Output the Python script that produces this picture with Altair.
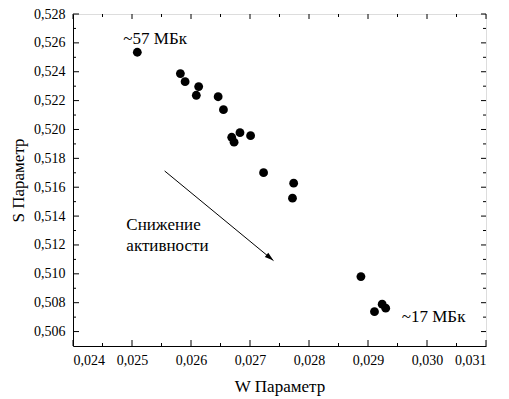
import altair as alt
import pandas as pd

# ---- data ----
w_param = [0.02509, 0.02582, 0.02590, 0.02613, 0.02609, 0.02646, 0.02655,
           0.02669, 0.02673, 0.02683, 0.02701, 0.02723, 0.02774, 0.02772,
           0.02888, 0.02911, 0.02924, 0.02930]
s_param = [0.52535, 0.52387, 0.52331, 0.52297, 0.52237, 0.52227, 0.52137,
           0.51946, 0.51912, 0.51978, 0.51957, 0.51701, 0.51628, 0.51524,
           0.50981, 0.50738, 0.50790, 0.50762]

x_major = [0.024, 0.025, 0.026, 0.027, 0.028, 0.029, 0.030, 0.031]
x_minor = [0.0245, 0.0255, 0.0265, 0.0275, 0.0285, 0.0295, 0.0305]
y_major = [0.506, 0.508, 0.510, 0.512, 0.514, 0.516, 0.518, 0.520,
           0.522, 0.524, 0.526, 0.528]
y_minor = [0.507, 0.509, 0.511, 0.513, 0.515, 0.517, 0.519, 0.521,
           0.523, 0.525, 0.527]

label_text = ["~57 МБк", "~17 МБк"]
label_x = [0.025392, 0.030112]
label_y = [0.526269, 0.507017]

note_text = ["Снижение", "активности"]
note_x = [0.024904, 0.024904]
note_y = [0.513388, 0.511934]

arrow_x = [0.025553, 0.027398]
arrow_y = [0.517127, 0.510915]

X_DOMAIN = [0.024, 0.031]
Y_DOMAIN = [0.505, 0.528]
W, H = 413, 332
FONT = "Liberation Serif"
LBL = "replace(format(datum.value, '.3f'), '.', ',')"

xs = alt.Scale(domain=X_DOMAIN, nice=False, zero=False)
ys = alt.Scale(domain=Y_DOMAIN, nice=False, zero=False)

x_axis = alt.Axis(values=x_major, ticks=False, tickSize=0, domain=True, domainColor="black",
                  domainWidth=1, grid=False, labelExpr=LBL, labelPadding=7, labelFont=FONT,
                  labelFontSize=14, labelColor="black", titleFont=FONT, titleFontSize=17,
                  titleFontWeight="normal", titleColor="black", titleY=45,
                  titleBaseline="alphabetic")
y_axis = alt.Axis(values=y_major, ticks=False, tickSize=0, domain=True, domainColor="black",
                  domainWidth=1, grid=False, labelExpr=LBL, labelPadding=8, labelFont=FONT,
                  labelFontSize=14, labelColor="black", titleFont=FONT, titleFontSize=17,
                  titleFontWeight="normal", titleColor="black", titleX=-50,
                  titleBaseline="alphabetic")

def X(field):
    return alt.X(field, scale=xs, title="W Параметр", axis=x_axis)

def Y(field):
    return alt.Y(field, scale=ys, title="S Параметр", axis=y_axis)

pts = pd.DataFrame({"w": w_param, "s": s_param})
points = alt.Chart(pts).mark_circle(size=78, color="black", opacity=1).encode(
    x=X("w:Q"), y=Y("s:Q"))

def xticks(vals, length, top):
    df = pd.DataFrame({"w": vals})
    if top:
        y1, y2 = alt.value(0), alt.value(length)
    else:
        y1, y2 = alt.value(H), alt.value(H - length)
    return alt.Chart(df).mark_rule(color="black", strokeWidth=1).encode(
        x=X("w:Q"), y=y1, y2=y2)

def yticks(vals, length, right):
    df = pd.DataFrame({"s": vals})
    if right:
        x1, x2 = alt.value(W), alt.value(W - length)
    else:
        x1, x2 = alt.value(0), alt.value(length)
    return alt.Chart(df).mark_rule(color="black", strokeWidth=1).encode(
        y=Y("s:Q"), x=x1, x2=x2)

ticks = [
    xticks(x_major, 6, False), xticks(x_minor, 3, False),
    xticks(x_major, 5, True), xticks(x_minor, 3, True),
    yticks(y_major, 6, False), yticks(y_minor, 3, False),
    yticks(y_major, 5, True), yticks(y_minor, 3, True),
]

labels = alt.Chart(pd.DataFrame({"w": label_x, "s": label_y, "t": label_text})).mark_text(
    font=FONT, fontSize=17, color="black", align="center", baseline="middle").encode(
    x=X("w:Q"), y=Y("s:Q"), text="t:N")

notes = alt.Chart(pd.DataFrame({"w": note_x, "s": note_y, "t": note_text})).mark_text(
    font=FONT, fontSize=17, color="black", align="left", baseline="middle").encode(
    x=X("w:Q"), y=Y("s:Q"), text="t:N")

arrow_df = pd.DataFrame({"w": arrow_x, "s": arrow_y, "o": [0, 1]})
arrow_line = alt.Chart(arrow_df).mark_line(color="black", strokeWidth=1).encode(
    x=X("w:Q"), y=Y("s:Q"), order="o:Q")
arrow_head = alt.Chart(arrow_df.iloc[[1]]).mark_point(
    shape="M0,0 L-2,-0.6 L-2,0.6 Z", filled=True, color="black", opacity=1,
    size=81, angle=39.5).encode(x=X("w:Q"), y=Y("s:Q"))

chart = alt.layer(points, *ticks, arrow_line, arrow_head, notes, labels).properties(
    width=W, height=H,
    autosize=alt.AutoSizeParams(type="none"),
    padding={"left": 73, "top": 14, "right": 23, "bottom": 53},
).configure_view(stroke="black", strokeWidth=1).configure(
    background="white", font=FONT)

chart.save("out.html", embed_options={"renderer": "svg", "actions": False})
